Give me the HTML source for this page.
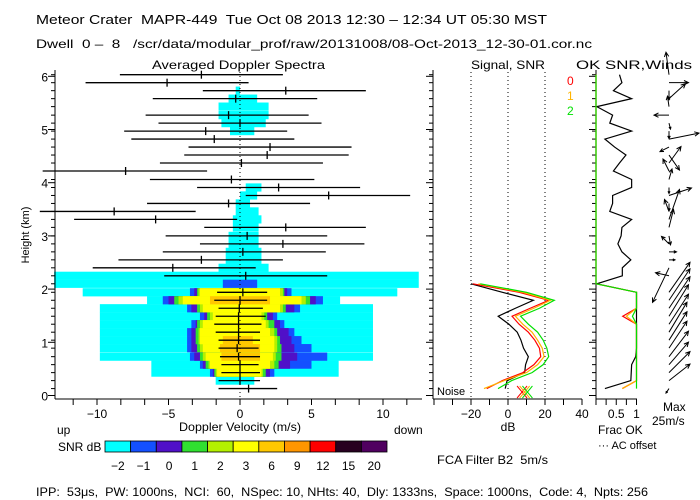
<!DOCTYPE html>
<html><head><meta charset="utf-8"><style>
html,body{margin:0;padding:0;background:#fff}
svg{display:block;font-family:"Liberation Sans",sans-serif}
svg text{white-space:pre}
</style></head><body>
<svg id="chart" width="700" height="500" viewBox="0 0 700 500" xmlns="http://www.w3.org/2000/svg" xml:space="preserve">
<rect width="700" height="500" fill="#fff"/>
<text x="36" y="24" font-size="13" textLength="511" lengthAdjust="spacingAndGlyphs">Meteor Crater  MAPR-449  Tue Oct 08 2013 12:30 – 12:34 UT 05:30 MST</text>
<text x="36" y="48" font-size="12" textLength="556" lengthAdjust="spacingAndGlyphs">Dwell  0 –  8   /scr/data/modular_prof/raw/20131008/08-Oct-2013_12-30-01.cor.nc</text>
<text x="152" y="69" font-size="12" textLength="173" lengthAdjust="spacingAndGlyphs">Averaged Doppler Spectra</text>
<text x="471" y="69" font-size="12" textLength="74" lengthAdjust="spacingAndGlyphs">Signal, SNR</text>
<text x="576" y="69" font-size="12" textLength="116" lengthAdjust="spacingAndGlyphs">OK SNR,Winds</text>
<text transform="translate(29,235) rotate(-90)" text-anchor="middle" font-size="11">Height (km)</text>
<text x="240" y="431" text-anchor="middle" font-size="12" textLength="122" lengthAdjust="spacingAndGlyphs">Doppler Velocity (m/s)</text>
<text x="57" y="434" font-size="12">up</text>
<text x="394" y="434" font-size="12">down</text>
<text x="58" y="451" font-size="12">SNR dB</text>
<text x="508" y="431" text-anchor="middle" font-size="12">dB</text>
<text x="437" y="395" font-size="11">Noise</text>
<text x="437" y="464" font-size="12" textLength="111" lengthAdjust="spacingAndGlyphs">FCA Filter B2  5m/s</text>
<text x="598" y="434" font-size="12">Frac OK</text>
<text x="598" y="449" font-size="11">··· AC offset</text>
<text x="663" y="411" font-size="12">Max</text>
<text x="652" y="425" font-size="12">25m/s</text>
<text x="567" y="85" font-size="12" fill="#ff0000">0</text>
<text x="567" y="100" font-size="12" fill="#ffb400">1</text>
<text x="567" y="115" font-size="12" fill="#00e000">2</text>
<text x="36" y="496" font-size="12" textLength="612" lengthAdjust="spacingAndGlyphs">IPP:  53μs,  PW: 1000ns,  NCI:  60,  NSpec: 10, NHts: 40,  Dly: 1333ns,  Space: 1000ns,  Code: 4,  Npts: 256</text>
<g id="layer"></g>
</svg>
<script>
const heights=[0.13,0.28,0.43,0.58,0.73,0.89,1.04,1.19,1.34,1.49,1.64,1.79,1.94,2.10,2.25,2.40,2.55,2.70,2.85,3.00,3.16,3.31,3.46,3.61,3.76,3.91,4.06,4.22,4.37,4.52,4.67,4.82,4.97,5.12,5.27,5.43,5.58,5.73,5.88,6.03];
const snrCyan=[null,[-1.7,1],[-6.2,6.9],[-6.2,6.9],[-9.8,9.3],[-9.8,9.3],[-9.8,9.3],[-9.8,9.3],[-9.8,9.3],[-9.8,9.3],[-9.8,9.3],[-6.5,7],[-11,11],[-13,12.5],[-13,12.5],[-1.5,2],[-1,1.5],[-1,1.5],[-0.8,1.3],[-0.8,1.3],[-0.5,1.3],[-0.5,1.5],[-0.3,1.3],[-0.3,0.7],[0,1.2],[0.4,1.5],null,null,null,null,null,null,[-0.7,1],[-1.3,1.8],[-1.5,2],[-1.5,2],[-0.8,1.2],[-0.3,0],null,null];
const snrBlue=[null,null,[-2.1,2.4],[-2.8,5],[-3.5,6.1],[-3.7,5],[-3.7,4.3],[-3.7,3.8],[-3.4,3.1],[-2.8,2.6],[-3.7,4.2],[-5.4,5.8],[-3.5,3.6],[-1.2,1.2]];
const snrIndigo=[null,null,[-1.9,2.1],[-2.6,3.5],[-3.2,4],[-3.4,3.8],[-3.4,3.6],[-3.4,3.4],[-3.1,2.8],[-2.5,2.3],[-3.4,3.8],[-5,5.3],[-3.2,3.3]];
const snrGreen=[null,null,[-1.8,1.8],[-2.4,2.7],[-2.8,2.9],[-3,2.9],[-3.1,2.8],[-3.1,2.6],[-3,2.4],[-2.3,1.9],[-3,3.2],[-4.6,4.9],[-3,3.1]];
const snrLime=[null,null,[-1.7,1.6],[-2.2,2.4],[-2.6,2.5],[-2.8,2.6],[-2.9,2.6],[-2.9,2.4],[-2.8,2],[-2.1,1.7],[-2.8,3],[-4.3,4.6],[-2.9,3]];
const snrYellow=[null,null,[-1.6,1.5],[-2.1,2.1],[-2.4,2.3],[-2.6,2.4],[-2.8,2.4],[-2.8,2.1],[-2.6,1.8],[-1.9,1.5],[-2.6,2.8],[-4,4.3],[-2.8,2.8]];
const snrGold=[null,null,null,null,[-1.3,1.4],[-1.4,1.4],[-1.2,0.9],null,null,null,null,[-2.1,2.1],null];
const barLo=[-1.5,-1.5,-1.3,-1.3,-1.4,-1.5,-1.5,-1.7,-1.8,-1.7,-1.5,-1.8,-1.6,null,-5.3,-10.3,-8.5,-5.4,-2.8,-5.2,-2.5,-11.6,-14,-6.5,0.4,-3,-6.3,-13.8,-5.6,-3.9,-3.6,-7.6,-8.1,-5.7,-6.6,null,-6.1,-2.6,-10.8,-8.4];
const barMid=[0.6,0,0,0,-0.1,-0.2,-0.1,-0.1,-0.1,-0.1,-0.05,0,0.2,null,0.4,-4.7,-2.7,0.2,3.0,0.5,3.2,-5.9,-8.8,-0.8,6.2,2.7,-0.6,-8,0.1,1.9,2.1,-1.8,-2.4,0,-0.8,null,-0.3,3.2,-5.1,-2.7];
const barHi=[2.6,1.4,1.4,1.3,1.4,1.3,1.4,1.4,1.5,1.8,1.6,1.9,1.9,null,6.1,1.1,3.0,6.0,8.7,6.1,8.8,-0.2,-3.1,4.9,11.9,8.4,5.2,-2.3,5.8,7.6,7.8,3.8,3.3,5.7,4.8,null,5.4,8.8,0.6,3.0];
const signalBlack=[-1.5,-0.5,9,9.5,11,8.4,7,5,0.5,-5.3,4,13.7,-3,-20];
const snrRed=[-11.5,-3,8,14,17.7,17,14.5,11,6,2.2,12,22,6,-19];
const snrOrange=[-13,-2,10,16,19.5,18.5,16,13,8,4,14,23,8,-16];
const snrGreenLine=[-5.4,2,13,19,22,21,19,16,11,6.8,17,25,10,-15];
const noiseDb=[7.6,9,10.5];
const okBlack=[0.22,0.86,0.87,0.88,0.98,1,1,1,1,1,1,1,1,0.02,0.65,0.65,0.86,0.64,0.54,0.62,0.64,0.88,0.34,0.41,0.41,0.88,0.88,0.43,0.58,0.74,0.46,0.22,0.88,0.34,0.41,0.02,0.88,0.43,0.64,0.58];
const okRed=[0.65,1,1,1,1,1,1,1,1,0.66,1,1,1,0,0,0,0,0,0,0,0,0,0,0,0,0,0,0,0,0,0,0,0,0,0,0,0,0,0,0];
const okOrange=[0.65,1,1,1,1,1,1,1,1,0.75,1,1,1,0,0,0,0,0,0,0,0,0,0,0,0,0,0,0,0,0,0,0,0,0,0,0,0,0,0,0];
const okGreen=[1,1,1,1,1,1,1,1,1,0.9,1,1,1,0,0,0,0,0,0,0,0,0,0,0,0,0,0,0,0,0,0,0,0,0,0,0,0,0,0,0];
const windU=[-2,14,14,13,13,12,12,12,13,13,14,14,14,null,-9,-11,4,5,-5,1,3,7,-3,0,15,0,2,-4,8,7,-6,20,0,1,-10,-1,11,0,13,-2];
const windV=[-3,11,14,15,17,18,19,20,20,21,21,21,20,null,2,-23,0,0,5,-6,12,20,8,-5,5,-4,7,8,11,-10,-3,4,-5,-4,0,7,10,-6,0,15];
const cbLabels=["-2","-1","0","1","2","3","6","9","12","15","20"];
const cbColors=["#00ffff","#1450ff","#5010c8","#30e030","#b4f000","#ffff00","#ffc800","#ff9600","#ff0000","#280020","#500060"];
const velTicks=[-10,-5,0,5,10];
const dbTicks=[-20,0,20,40];
const fracTicks=[0.5,1];
const hTicks=[0,1,2,3,4,5,6];

const NS="http://www.w3.org/2000/svg";
const layer=document.getElementById('layer');
function el(tag,attrs){const e=document.createElementNS(NS,tag);for(const k in attrs)e.setAttribute(k,attrs[k]);layer.appendChild(e);return e;}
const yH=h=>395.5-h*53.2;
const xV=v=>240+v*14.3;
const xDb=d=>508+d*1.85;
const xF=f=>596+f*40.5;

const levels=[[snrCyan,"#00ffff","cyan"],[snrBlue,"#1450ff","blue"],[snrIndigo,"#5010c8","indigo"],[snrGreen,"#30e030","green"],[snrLime,"#b4f000","lime"],[snrYellow,"#ffff00","yellow"],[snrGold,"#ffc800","gold"]];
levels.forEach(([arr,col,nm])=>{arr.forEach((r,i)=>{if(!r)return;
 const e=el('rect',{x:xV(r[0]),y:yH(heights[i])-4.1,width:xV(r[1])-xV(r[0]),height:8.2,fill:col});
 
 });});
let z=el('line',{x1:xV(0),x2:xV(0),y1:72,y2:399,stroke:'#000','stroke-dasharray':'1,3'});


heights.forEach((h,i)=>{if(barLo[i]===null)return;const y=yH(h);
 const b=el('line',{x1:xV(barLo[i]),x2:xV(barHi[i]),y1:y,y2:y,stroke:'#000','stroke-width':1.3});
 
 
 const t=el('line',{x1:xV(barMid[i]),x2:xV(barMid[i]),y1:y-4,y2:y+4,stroke:'#000','stroke-width':1.3});
 
 });
function axisY(x){const a=el('line',{x1:x,x2:x,y1:70,y2:399,stroke:'#000'});
 
 
 heights.forEach(h=>{const t=el('line',{x1:x-4,x2:x,y1:yH(h),y2:yH(h),stroke:'#000'});
  
  });
 hTicks.forEach(h=>{const t=el('line',{x1:x-7,x2:x,y1:yH(h),y2:yH(h),stroke:'#000'});
  
  });}
axisY(55);axisY(433);axisY(596);
hTicks.forEach(h=>{const t=el('text',{x:48,y:yH(h)+5,'text-anchor':'end','font-size':12});t.textContent=h;
 
 });
function axisX(x1,x2,tickStep,tickFn,lo,hi){const a=el('line',{x1:x1,x2:x2,y1:399,y2:399,stroke:'#000'});
 
 
 for(let v=lo;v<=hi+1e-6;v+=tickStep){const x=tickFn(v);if(x<x1-0.5||x>x2+0.5)continue;
  const t=el('line',{x1:x,x2:x,y1:399,y2:405,stroke:'#000'});
  
  }}
axisX(55,422,5/3,xV,-40/3,40/3);
axisX(433,582,10,xDb,-40,40);
axisX(596,637,0.25,xF,0,1);
velTicks.forEach(v=>{const t=el('text',{x:xV(v),y:418,'text-anchor':'middle','font-size':12});t.textContent=v<0?'−'+(-v):v;
 
 });
dbTicks.forEach(v=>{const t=el('text',{x:xDb(v),y:418,'text-anchor':'middle','font-size':12});t.textContent=v<0?'−'+(-v):v;
 
 });
fracTicks.forEach(v=>{const t=el('text',{x:xF(v),y:418,'text-anchor':'middle','font-size':12});t.textContent=v;
 
 });
dbTicks.slice(0,3).forEach(d=>{const g=el('line',{x1:xDb(d),x2:xDb(d),y1:72,y2:399,stroke:'#000','stroke-dasharray':'1,3'});
 
 });
function pline(vals,xf,col,nm){const pts=vals.map((v,i)=>xf(v)+','+yH(heights[i])).join(' ');
 const p=el('polyline',{points:pts,fill:'none',stroke:col,'stroke-width':1.2});
 
 }
pline(signalBlack,xDb,'#000','signal-line');
pline(snrRed,xDb,'#ff0000','snr-line-0');
pline(snrOrange,xDb,'#ffb400','snr-line-1');
pline(snrGreenLine,xDb,'#00e000','snr-line-2');
const nCols=['#ff0000','#ffb400','#00e000'];
noiseDb.forEach((d,i)=>{const x=xDb(d),y=392;
 const m=el('path',{d:`M${x-5},${y-6}L${x+5},${y+6}M${x+5},${y-6}L${x-5},${y+6}`,stroke:nCols[i],fill:'none'});
 
 });
pline(okBlack,xF,'#000','ok-snr-line');
pline(okRed,xF,'#ff0000','frac-ok-line-0');
pline(okOrange,xF,'#ffb400','frac-ok-line-1');
pline(okGreen,xF,'#00e000','frac-ok-line-2');
const ws=1.5;
heights.forEach((h,i)=>{if(windU[i]===null)return;const x0=669,y0=yH(h);
 const dx=windU[i]*ws,dy=-windV[i]*ws,x1=x0+dx,y1=y0+dy,L=Math.hypot(dx,dy)||1;
 const ux=dx/L,uy=dy/L,a=0.45,hl=Math.min(5,L*0.4);
 const hx1=x1-hl*(ux*Math.cos(a)-uy*Math.sin(a)),hy1=y1-hl*(uy*Math.cos(a)+ux*Math.sin(a));
 const hx2=x1-hl*(ux*Math.cos(a)+uy*Math.sin(a)),hy2=y1-hl*(uy*Math.cos(a)-ux*Math.sin(a));
 const p=el('path',{d:`M${x0},${y0}L${x1},${y1}M${hx1},${hy1}L${x1},${y1}L${hx2},${hy2}`,stroke:'#000',fill:'none'});
 
 });
const cw=(387-105)/cbColors.length;
cbColors.forEach((c,i)=>{const r=el('rect',{x:105+i*cw,y:441,width:cw,height:11,fill:c,stroke:'#000','stroke-width':0.8});
 
 
 const t=el('text',{x:105+(i+0.5)*cw,y:470,'text-anchor':'middle','font-size':12});t.textContent=cbLabels[i].replace('-','−');
 
 });
</script>
</body></html>
